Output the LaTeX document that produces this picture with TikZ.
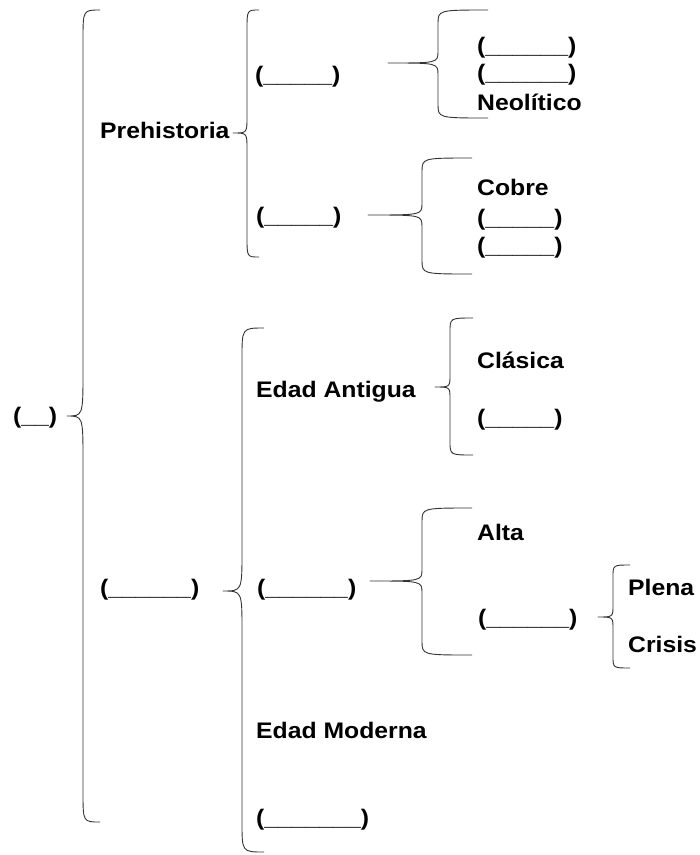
\documentclass[tikz,border=0pt]{standalone}
\usepackage{fontspec}
\setmainfont{Liberation Sans}[FakeStretch=1.1]
\begin{document}
\begin{tikzpicture}
[x=1pt,y=-1pt,
  labeldecorate/.style={anchor=base west,inner sep=0pt,
    font=\bfseries\fontsize{22.5}{27}\selectfont},%
  bracedecorate/.style={-,line width=0.9pt,black!80,line join=round}]
\fill[white] (0,0) rectangle (700,855);
\useasboundingbox (0,0) rectangle (700,855);
%% labels and blanks
\foreach \nodename/\x/\y/\txt in {
  root/13/423/(\_\_),
  prehist/100/138/Prehistoria,
  prehistA/255/82/(\_\_\_\_\_),
  prehistB/256/223/(\_\_\_\_\_),
  neolA/477/53/(\_\_\_\_\_\_),
  neolB/477/80/(\_\_\_\_\_\_),
  neol/477/110/Neolítico,
  cobre/477/195/Cobre,
  cobreA/477/225/(\_\_\_\_\_),
  cobreB/477/253/(\_\_\_\_\_),
  hist/100/595/(\_\_\_\_\_\_),
  antigua/256/397/Edad Antigua,
  clasica/477/368/Clásica,
  clasicaB/477/425/(\_\_\_\_\_),
  media/257/595/(\_\_\_\_\_\_),
  alta/477/540/Alta,
  altaB/478/625/(\_\_\_\_\_\_),
  plena/628/595/Plena,
  crisis/628/652/Crisis,
  moderna/256/738/Edad Moderna,
  modernaB/256/825/(\_\_\_\_\_\_\_)} {
  \node (\nodename) at (\x,\y) [labeldecorate] {\txt};
}
%% braces: end x / spine x / tip x / top / middle / bottom / end curl / tip curl
\foreach \ex/\sx/\tx/\ya/\ym/\yb/\re/\rt in {
  100/83/67/10/416/822/30/45,
  259/247/233/10/133/257/20/16,
  488/438/388/10/63/118/14/12,
  472/422/368/158/215/274/14/12,
  264/242/223/328/591/852/30/40,
  473/450/435/318/387/455/14/12,
  472/422/370/508/581/655/14/12,
  630/613/598/565/617/668/12/12} {
  \draw[bracedecorate] (\ex,\ya) .. controls (\sx,\ya) and (\sx,\ya) .. (\sx,\ya+\re)
    -- (\sx,\ym-\rt) .. controls (\sx,\ym) and (\sx,\ym) .. (\tx,\ym)
    .. controls (\sx,\ym) and (\sx,\ym) .. (\sx,\ym+\rt)
    -- (\sx,\yb-\re) .. controls (\sx,\yb) and (\sx,\yb) .. (\ex,\yb);
}
\end{tikzpicture}
\end{document}
